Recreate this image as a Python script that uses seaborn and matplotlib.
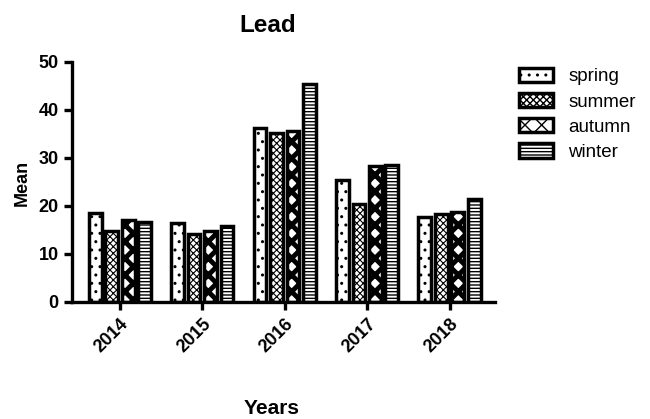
import matplotlib
matplotlib.use("Agg")
import matplotlib.pyplot as plt
import seaborn as sns
import pandas as pd
from matplotlib.patches import Patch

years = ["2014", "2015", "2016", "2017", "2018"]
seasons = ["spring", "summer", "autumn", "winter"]
spring = [18.6, 16.5, 36.3, 25.4, 17.7]
summer = [14.7, 14.1, 35.2, 20.4, 18.3]
autumn = [17.0, 14.8, 35.6, 28.3, 18.8]
winter = [16.6, 15.8, 45.5, 28.5, 21.5]

series = {"spring": spring, "summer": summer, "autumn": autumn, "winter": winter}
rows = []
for s in seasons:
    for y, v in zip(years, series[s]):
        rows.append({"Years": y, "season": s, "Mean": v})
df = pd.DataFrame(rows)

sns.set_style("ticks")
plt.rcParams["font.family"] = ["Liberation Sans", "DejaVu Sans"]
plt.rcParams["text.color"] = "black"
plt.rcParams["axes.labelcolor"] = "black"
plt.rcParams["xtick.color"] = "black"
plt.rcParams["ytick.color"] = "black"
plt.rcParams["axes.edgecolor"] = "black"
plt.rcParams["hatch.linewidth"] = 1.0
plt.rcParams["hatch.color"] = "black"

hatches = {"spring": "..", "summer": "xxxxx", "autumn": "XX", "winter": "-----"}
hatch_lw = {"spring": 1.0, "summer": 0.8, "autumn": 3.5, "winter": 1.0}

fig = plt.figure(figsize=(6.5, 4.19), dpi=100)
ax = fig.add_axes([72 / 650, 1 - 302 / 419, (495 - 72) / 650, 240 / 419])

sns.barplot(data=df, x="Years", y="Mean", hue="season", order=years,
            hue_order=seasons, palette=["white"] * 4,
            width=0.8, gap=0.22, edgecolor="black", linewidth=2.5,
            errorbar=None, legend=False, ax=ax)

for cont, s in zip(ax.containers, seasons):
    for p in cont.patches:
        p.set_hatch(hatches[s])
        p.set_facecolor("white")
        p.set_edgecolor("black")
        if hasattr(p, "set_hatch_linewidth"):
            p.set_hatch_linewidth(hatch_lw[s])

ax.set_ylim(0, 50)
ax.set_xlim(-0.58, 4.55)
ax.set_yticks([0, 10, 20, 30, 40, 50])
sns.despine(ax=ax)
for sp in ["left", "bottom"]:
    ax.spines[sp].set_linewidth(2.4)
ax.tick_params(axis="both", width=2.4, length=6, labelsize=13, colors="black")
for lab in ax.get_yticklabels():
    lab.set_fontweight("bold")
for lab in ax.get_xticklabels():
    lab.set_fontweight("bold")
    lab.set_rotation(45)
    lab.set_ha("right")
    lab.set_rotation_mode("anchor")

ax.set_xlabel("")
ax.set_ylabel("")
fig.text(268 / 650, 1 - 25 / 419, "Lead", fontsize=17.5, fontweight="bold",
         ha="center", va="center")
fig.text(272 / 650, 1 - 408 / 419, "Years", fontsize=15, fontweight="bold",
         ha="center", va="center")
fig.text(22 / 650, 1 - 183 / 419, "Mean", fontsize=13, fontweight="bold",
         ha="center", va="center", rotation=90)

handles = []
for s in seasons:
    h = Patch(facecolor="white", edgecolor="black", linewidth=2.5,
              hatch=hatches[s], label=s)
    handles.append(h)
leg = fig.legend(handles=handles, loc="upper left",
                 bbox_to_anchor=(515 / 650, 1 - 64 / 419),
                 frameon=False, fontsize=13.5, handlelength=1.85, handleheight=0.8,
                 labelspacing=0.4, handletextpad=0.8, borderpad=0.2,
                 borderaxespad=0.0)

fig.savefig("out.png", dpi=100)
